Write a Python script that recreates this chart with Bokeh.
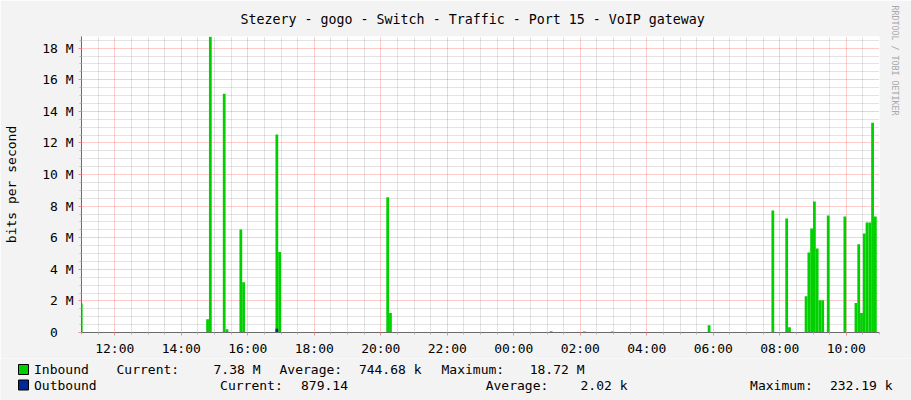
from bokeh.plotting import figure
from bokeh.layouts import column
from bokeh.models import Range1d, FixedTicker, Label, Title
from bokeh.embed import file_html
from bokeh.resources import INLINE

# ---------------- data ----------------
title_text = "Stezery - gogo - Switch - Traffic - Port 15 - VoIP gateway"
y_axis_title = "bits per second"
credit_text = "RRDTOOL / TOBI OETIKER"

start_time = "11:00"          # left edge of the graph (day 1)
step_minutes = 5              # rrd step
x_tick_labels = ["12:00", "14:00", "16:00", "18:00", "20:00", "22:00",
                 "00:00", "02:00", "04:00", "06:00", "08:00", "10:00"]
y_tick_values = [0, 2, 4, 6, 8, 10, 12, 14, 16, 18]
y_tick_labels = ["0\u00a0\u00a0", "2 M", "4 M", "6 M", "8 M", "10 M",
                 "12 M", "14 M", "16 M", "18 M"]
y_max_mbps = 18.74

# Inbound samples (Mbit/s); all other samples are 0
inbound_day1_times = ["10:57", "14:45", "14:50", "15:15", "15:20", "15:45",
                      "15:50", "16:50", "16:55", "20:10", "20:15"]
inbound_day1_mbps = [1.83, 0.84, 18.72, 15.12, 0.20, 6.52,
                     3.18, 12.53, 5.09, 8.57, 1.24]
inbound_day2_times = ["01:05", "02:05", "02:55", "05:50", "07:45", "08:10",
                      "08:15", "08:45", "08:50", "08:55", "09:00", "09:05",
                      "09:10", "09:15", "09:25", "09:55", "10:15", "10:20",
                      "10:25", "10:30", "10:35", "10:40", "10:45", "10:50"]
inbound_day2_mbps = [0.08, 0.07, 0.07, 0.46, 7.73, 7.22,
                     0.33, 2.29, 5.07, 6.59, 8.29, 5.32,
                     2.04, 2.04, 7.41, 7.35, 1.87, 5.58,
                     1.24, 6.27, 6.97, 6.97, 13.28, 7.35]
# Outbound samples (Mbit/s)
outbound_day1_times = ["16:50"]
outbound_day1_mbps = [0.232]

legend_names = ["Inbound", "Outbound"]
legend_current = ["7.38 M", "879.14"]
legend_average = ["744.68 k", "2.02 k"]
legend_maximum = ["18.72 M", "232.19 k"]

# ---------------- helpers ----------------
def to_min(t):
    h, m = t.split(":")
    return int(h) * 60 + int(m)

START = to_min(start_time)
SPAN = 24 * 60

def offset(t, day):
    return day * SPAN + to_min(t) - START

def tick_offset(t):
    m = to_min(t) - START
    return m if m >= 0 else m + SPAN

MONO = "DejaVu Sans Mono"
GREEN = "#00CF00"
BLUE = "#002A97"
BG = "#F3F3F3"
W = 911
MAIN_H = 358
LEG_H = 400 - MAIN_H

# ---------------- main figure ----------------
p = figure(width=W, height=MAIN_H, output_backend="svg", toolbar_location=None,
           x_range=Range1d(0, SPAN), y_range=Range1d(0, y_max_mbps),
           min_border_left=81, min_border_right=30, min_border_top=36,
           min_border_bottom=25)
p.frame_align = False
p.background_fill_color = "white"
p.border_fill_color = BG
p.outline_line_color = None

x_major = [tick_offset(t) for t in x_tick_labels]
x_minor = [m for m in range(0, SPAN + 1, 30) if m not in x_major]
xt = FixedTicker(ticks=x_major, minor_ticks=x_minor)
y_minor = [k * 0.5 for k in range(0, 38) if k % 4 != 0]
yt = FixedTicker(ticks=y_tick_values, minor_ticks=y_minor)

p.xaxis.ticker = xt
p.yaxis.ticker = yt
p.xgrid.ticker = xt
p.ygrid.ticker = yt
p.xaxis.major_label_overrides = {m: t for m, t in zip(x_major, x_tick_labels)}
p.yaxis.major_label_overrides = {v: t for v, t in zip(y_tick_values, y_tick_labels)}

for g in (p.xgrid, p.ygrid):
    g.grid_line_color = "#FF0000"
    g.grid_line_alpha = 0.4
    g.grid_line_dash = "1 1"
    g.minor_grid_line_color = "#909090"
    g.minor_grid_line_alpha = 0.5
    g.minor_grid_line_dash = "1 1"

for ax in (p.xaxis, p.yaxis):
    ax.axis_line_color = "#6A6A6A"
    ax.major_tick_line_color = "#F09090"
    ax.major_tick_in = 0
    ax.major_tick_out = 3
    ax.minor_tick_line_color = "#B8B8B8"
    ax.minor_tick_in = 0
    ax.minor_tick_out = 2
    ax.major_label_text_font = MONO
    ax.major_label_text_font_size = "13px"
    ax.major_label_text_color = "#000000"
    ax.major_label_standoff = 5

p.yaxis.axis_label = y_axis_title
p.yaxis.axis_label_text_font = MONO
p.yaxis.axis_label_text_font_size = "13px"
p.yaxis.axis_label_text_font_style = "normal"
p.yaxis.axis_label_text_color = "#000000"
p.yaxis.axis_label_standoff = 20

# title and credit
p.add_layout(Title(text=title_text, align="left", offset=159, standoff=19,
                   text_font=MONO, text_font_size="13.3px",
                   text_font_style="normal", text_color="#000000"), "above")
p.add_layout(Title(text=credit_text, align="left", offset=-31, standoff=20,
                   text_font=MONO, text_font_size="8.3px",
                   text_font_style="normal", text_color="#A8A8A8"), "right")

# ---------------- bars ----------------
in_left = [offset(t, 0) for t in inbound_day1_times] + [offset(t, 1) for t in inbound_day2_times]
in_top = inbound_day1_mbps + inbound_day2_mbps
p.quad(left=in_left, right=[l + step_minutes for l in in_left],
       bottom=0, top=in_top, fill_color=GREEN, line_color=None)

out_left = [offset(t, 0) for t in outbound_day1_times]
p.quad(left=out_left, right=[l + step_minutes for l in out_left],
       bottom=0, top=outbound_day1_mbps, fill_color=BLUE, line_color=None)

# ---------------- legend strip (page pixel coordinates) ----------------
leg = figure(width=W, height=LEG_H, output_backend="svg", toolbar_location=None,
             x_range=Range1d(0, W), y_range=Range1d(400, MAIN_H),
             min_border=0)
leg.frame_align = False
leg.axis.visible = False
leg.grid.visible = False
leg.outline_line_color = None
leg.background_fill_color = BG
leg.border_fill_color = BG

rows_y = [369, 384.5]
key_x = [[116, 279, 441], [219.6, 485.2, 749.6]]
val_x = [[260, 421, 584], [347.5, 627, 892]]
swatch_colors = [GREEN, BLUE]
leg.quad(left=[18, 18], right=[28, 28],
         top=[y - 5 for y in rows_y], bottom=[y + 5 for y in rows_y],
         fill_color=swatch_colors, line_color="#000000", line_width=1)

def lab(text, x, y, align="left"):
    leg.add_layout(Label(x=x, y=y, text=text, text_align=align,
                         text_baseline="middle", text_font=MONO,
                         text_font_size="13px", text_color="#000000"))

keys = ["Current:", "Average:", "Maximum:"]
for i in range(2):
    lab(legend_names[i], 33.5, rows_y[i])
    vals = [legend_current[i], legend_average[i], legend_maximum[i]]
    for k in range(3):
        lab(keys[k], key_x[i][k], rows_y[i])
        lab(vals[k], val_x[i][k], rows_y[i], align="right")

layout = column(p, leg, spacing=0)
open("out.html", "w").write(file_html(layout, INLINE))
